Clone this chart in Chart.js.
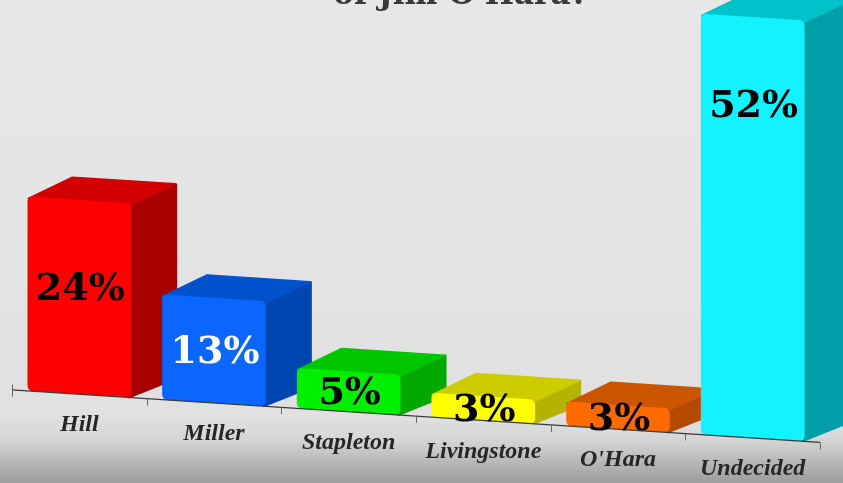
<!DOCTYPE html>
<html><head><meta charset="utf-8">
<script src="https://cdn.jsdelivr.net/npm/chart.js@4/dist/chart.umd.min.js"></script>
<style>html,body{margin:0;padding:0;background:#e6e6e6;overflow:hidden}#wrap{width:843px;height:483px;position:relative}</style>
</head><body><div id="wrap"><canvas id="c" width="843" height="483"></canvas></div>
<script>
// ---- data ----
const categories = ["Hill", "Miller", "Stapleton", "Livingstone", "O'Hara", "Undecided"];
const percentages = [24, 13, 5, 3, 3, 52];
const titleText = "of Jim O'Hara?";

// ---- styles ----
const frontColors = ['#ff0000', '#0a66ff', '#00ee00', '#ffff00', '#ff6a00', '#12f2ff'];
const topColors   = ['#d20000', '#0052cc', '#00c600', '#cccc00', '#cc5500', '#00c2ca'];
const sideColors  = ['#a80000', '#0046b0', '#00a800', '#b4b400', '#b44a00', '#009ea6'];
const valueTextColors = ['#000', '#fff', '#000', '#000', '#000', '#000'];

const SKEW = 0.065, PIVOT_X = 492, DEPTH_X = 45, DEPTH_Y = -22;
function applySkew(ctx){ ctx.transform(1, SKEW, 0, 1, 0, -SKEW * PIVOT_X); }
function toScreenY(x, y){ return y + SKEW * (x - PIVOT_X); }

const threeD = {
  id: 'threeD',
  beforeDraw(chart){
    const ctx = chart.ctx, W = chart.width, H = chart.height;
    const g = ctx.createLinearGradient(0, 0, 0, H);
    g.addColorStop(0, '#e7e7e7');
    g.addColorStop(0.86, '#e1e1e1');
    g.addColorStop(0.91, '#d6d6d6');
    g.addColorStop(1, '#9c9c9c');
    ctx.save(); ctx.fillStyle = g; ctx.fillRect(0, 0, W, H); ctx.restore();
  },
  beforeDatasetsDraw(chart){
    const ctx = chart.ctx;
    ctx.save();
    applySkew(ctx);
    const meta = chart.getDatasetMeta(0);
    meta.data.forEach((el, i) => {
      const L = el.x - el.width / 2, R = el.x + el.width / 2, T = el.y, B = el.base;
      ctx.lineJoin = 'round';
      ctx.lineWidth = 2;
      // side face
      ctx.fillStyle = sideColors[i]; ctx.strokeStyle = sideColors[i];
      ctx.beginPath();
      ctx.moveTo(R - 2, T); ctx.lineTo(R + DEPTH_X, T + DEPTH_Y);
      ctx.lineTo(R + DEPTH_X, B + DEPTH_Y); ctx.lineTo(R - 2, B);
      ctx.closePath(); ctx.fill(); ctx.stroke();
      // top face
      ctx.fillStyle = topColors[i]; ctx.strokeStyle = topColors[i];
      ctx.beginPath();
      ctx.moveTo(L + 1, T + 2); ctx.lineTo(L + DEPTH_X, T + DEPTH_Y);
      ctx.lineTo(R + DEPTH_X - 1, T + DEPTH_Y); ctx.lineTo(R - 1, T + 2);
      ctx.closePath(); ctx.fill(); ctx.stroke();
    });
  },
  afterDatasetsDraw(chart){
    const ctx = chart.ctx;
    ctx.restore();
    const area = chart.chartArea, xs = chart.scales.x;
    const n = categories.length, catW = (area.right - area.left) / n;
    // axis line + ticks (skewed)
    ctx.save();
    applySkew(ctx);
    ctx.strokeStyle = '#3a3a3a'; ctx.lineWidth = 1.3;
    ctx.beginPath(); ctx.moveTo(area.left, area.bottom); ctx.lineTo(area.right, area.bottom); ctx.stroke();
    ctx.strokeStyle = '#666'; ctx.lineWidth = 1;
    for (let i = 0; i <= n; i++) {
      const x = Math.round(area.left + i * catW) + 0.5;
      ctx.beginPath(); ctx.moveTo(x, area.bottom - (i === 0 ? 5 : 0)); ctx.lineTo(x, area.bottom + 7); ctx.stroke();
    }
    ctx.restore();
    // category labels
    ctx.save();
    ctx.font = 'italic bold 24px "Liberation Serif"';
    ctx.fillStyle = '#262626'; ctx.textAlign = 'center'; ctx.textBaseline = 'middle';
    categories.forEach((c, i) => {
      const x = xs.getPixelForValue(i);
      ctx.fillText(c, x, toScreenY(x, area.bottom) + 31);
    });
    ctx.restore();
    // value labels
    ctx.save();
    ctx.font = 'bold 38px "DejaVu Serif"';
    ctx.textAlign = 'center'; ctx.textBaseline = 'middle';
    chart.getDatasetMeta(0).data.forEach((el, i) => {
      const cx = el.x + 1;
      const topS = toScreenY(cx, el.y), botS = toScreenY(cx, el.base);
      const h = botS - topS;
      ctx.fillStyle = valueTextColors[i];
      ctx.fillText(percentages[i] + '%', cx, topS + Math.min(h * 0.5 + 3, 90));
    });
    ctx.restore();
    // title (cut off at the top)
    ctx.save();
    ctx.font = 'bold 31px "DejaVu Serif"';
    ctx.fillStyle = '#3a3a3a'; ctx.textAlign = 'center'; ctx.textBaseline = 'alphabetic';
    ctx.fillText(titleText, 461, 4);
    ctx.restore();
  }
};

new Chart(document.getElementById('c'), {
  type: 'bar',
  data: {
    labels: categories,
    datasets: [{
      data: percentages,
      backgroundColor: frontColors,
      borderWidth: 0,
      borderRadius: 5,
      borderSkipped: false,
      barPercentage: 0.77,
      categoryPercentage: 1,
      clip: false
    }]
  },
  options: {
    responsive: false,
    animation: false,
    devicePixelRatio: 1,
    layout: { padding: { left: 12, right: 23, top: 0, bottom: 62 } },
    plugins: { legend: { display: false }, tooltip: { enabled: false }, title: { display: false } },
    scales: {
      x: { display: false, offset: true },
      y: { display: false, min: 0, max: 52 }
    }
  },
  plugins: [threeD]
});
</script>
</body></html>
